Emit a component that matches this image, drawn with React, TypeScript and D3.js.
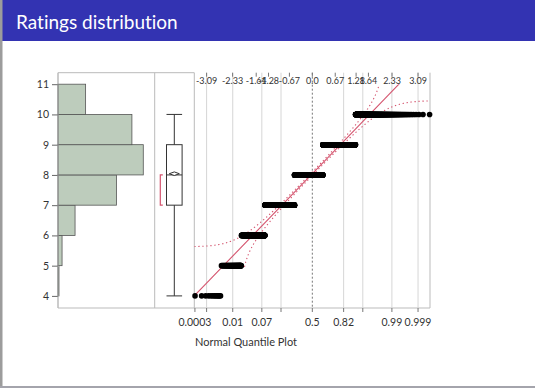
import React, { useRef, useEffect } from 'react';
import * as d3 from 'd3';

// Ratings and how many responses fell on each
const ratings = [4, 5, 6, 7, 8, 9, 10];
const ratingCounts = [12, 50, 210, 720, 1050, 910, 340];
const yTicks = [4, 5, 6, 7, 8, 9, 10, 11];

// Quantile plot axes
const quantileTicks = [-3.09, -2.33, -1.64, -1.28, -0.67, 0.0, 0.67, 1.28, 1.64, 2.33, 3.09];
const quantileLabels = ['-3.09', '-2.33', '-1.64', '-1.28', '-0.67', '0.0', '0.67', '1.28', '1.64', '2.33', '3.09'];
const probGrid = [0.001, 0.01, 0.07, 0.18, 0.82, 0.93, 0.99, 0.999];
const probTicks = [0.0003, 0.001, 0.01, 0.07, 0.18, 0.5, 0.82, 0.93, 0.99, 0.999];
const probLabelValues = [0.0003, 0.01, 0.07, 0.5, 0.82, 0.99, 0.999];
const probLabels = ['0.0003', '0.01', '0.07', '0.5', '0.82', '0.99', '0.999'];

// Box plot summary
const boxWhiskers = [4, 10];
const boxQuartiles = [7, 9];
const boxMedian = 8;
const shortestHalf = [7, 8];

// Normal fit and Lilliefors band half width (probability units)
const fitMean = 8.04;
const fitSd = 1.17;
const bandD = 0.0195;
const bandRange = [4.95, 11];

const W = 535;
const H = 388;
const RED = '#d4536d';
const FONT = 'Lato, "Noto Sans", sans-serif';

function qnorm(p: number): number {
  const a = [-39.69683028665376, 220.9460984245205, -275.9285104469687, 138.357751867269, -30.66479806614716, 2.506628277459239];
  const b = [-54.47609879822406, 161.5858368580409, -155.6989798598866, 66.80131188771972, -13.28068155288572];
  const c = [-0.007784894002430293, -0.3223964580411365, -2.400758277161838, -2.549732539343734, 4.374664141464968, 2.938163982698783];
  const d = [0.007784695709041462, 0.3224671290700398, 2.445134137142996, 3.754408661907416];
  const pl = 0.02425;
  if (p < pl) {
    const q = Math.sqrt(-2 * Math.log(p));
    return (((((c[0] * q + c[1]) * q + c[2]) * q + c[3]) * q + c[4]) * q + c[5]) / ((((d[0] * q + d[1]) * q + d[2]) * q + d[3]) * q + 1);
  }
  if (p > 1 - pl) {
    const q = Math.sqrt(-2 * Math.log(1 - p));
    return -(((((c[0] * q + c[1]) * q + c[2]) * q + c[3]) * q + c[4]) * q + c[5]) / ((((d[0] * q + d[1]) * q + d[2]) * q + d[3]) * q + 1);
  }
  const q = p - 0.5;
  const r = q * q;
  return (((((a[0] * r + a[1]) * r + a[2]) * r + a[3]) * r + a[4]) * r + a[5]) * q / (((((b[0] * r + b[1]) * r + b[2]) * r + b[3]) * r + b[4]) * r + 1);
}

function pnorm(z: number): number {
  const x = Math.abs(z) / Math.SQRT2;
  const t = 1 / (1 + 0.3275911 * x);
  const erf = 1 - (((((1.061405429 * t - 1.453152027) * t) + 1.421413741) * t - 0.284496736) * t + 0.254829592) * t * Math.exp(-x * x);
  return z >= 0 ? 0.5 * (1 + erf) : 0.5 * (1 - erf);
}

const App: React.FC = () => {
  const svgRef = useRef<SVGSVGElement>(null);

  useEffect(() => {
    if (!svgRef.current) return;
    const svg = d3.select(svgRef.current);
    svg.selectAll('*').remove();

    // slide background
    svg.append('rect').attr('width', W).attr('height', H).attr('fill', '#fff');
    svg.append('rect').attr('x', 0).attr('y', 0).attr('width', W).attr('height', 41).attr('fill', '#3333b2');
    svg.append('rect').attr('x', 0).attr('y', 0).attr('width', 2.5).attr('height', H).attr('fill', '#9c9c9c');
    svg.append('rect').attr('x', 0).attr('y', H - 2).attr('width', W).attr('height', 2).attr('fill', '#a4a4ac');
    svg.append('text')
      .attr('x', 16).attr('y', 29)
      .attr('fill', '#fff')
      .style('font-family', FONT)
      .style('font-size', '19px')
      .style('font-variant-ligatures', 'none')
      .text('Ratings distribution');

    // scales
    const y = d3.scaleLinear().domain([3.6, 11.38]).range([308, 72.7]);
    const xCount = d3.scaleLinear().domain([0, 1182]).range([58, 154]);
    const xz = d3.scaleLinear().domain([-3.45, 3.44]).range([194.3, 430]);
    const frameTop = 72.7;
    const frameBottom = 308;

    // ----- histogram -----
    const hist = svg.append('g');
    hist.selectAll('rect')
      .data(ratings)
      .join('rect')
      .attr('x', xCount(0))
      .attr('y', (d) => y(d + 1))
      .attr('width', (_, i) => xCount(ratingCounts[i]) - xCount(0))
      .attr('height', (d) => y(d) - y(d + 1))
      .attr('fill', '#bdccbc')
      .attr('stroke', '#555')
      .attr('stroke-width', 0.8);

    // y axis
    const yAxis = svg.append('g').attr('transform', `translate(${xCount(0)},0)`)
      .call(d3.axisLeft(y).tickValues(yTicks).tickSize(6).tickPadding(3).tickFormat(d3.format('d')));
    yAxis.select('.domain').remove();
    yAxis.selectAll('line').attr('stroke', '#666');
    yAxis.selectAll('text').style('font-family', FONT).style('font-size', '10.5px').attr('fill', '#333');

    // ----- frames -----
    const frame = svg.append('g').attr('fill', 'none').attr('stroke', '#bbbbbb').attr('stroke-width', 1);
    frame.append('line').attr('x1', 58).attr('x2', 58).attr('y1', frameTop).attr('y2', frameBottom).attr('stroke', '#999');
    frame.append('line').attr('x1', 58).attr('x2', xz.range()[0]).attr('y1', frameTop).attr('y2', frameTop);
    frame.append('line').attr('x1', 58).attr('x2', xz.range()[1]).attr('y1', frameBottom).attr('y2', frameBottom);
    frame.append('line').attr('x1', 154.7).attr('x2', 154.7).attr('y1', frameTop).attr('y2', frameBottom);
    frame.append('line').attr('x1', xz.range()[0]).attr('x2', xz.range()[0]).attr('y1', frameTop).attr('y2', frameBottom);
    frame.append('line').attr('x1', xz.range()[1]).attr('x2', xz.range()[1]).attr('y1', frameTop).attr('y2', frameBottom);

    // ----- box plot -----
    const bx = 174.3;
    const bw = 7.8;
    const box = svg.append('g').attr('stroke', '#333').attr('stroke-width', 1).attr('fill', 'none');
    box.append('line').attr('x1', bx).attr('x2', bx).attr('y1', y(boxWhiskers[0])).attr('y2', y(boxWhiskers[1]));
    boxWhiskers.forEach((w) => {
      box.append('line').attr('x1', bx - bw).attr('x2', bx + bw).attr('y1', y(w)).attr('y2', y(w));
    });
    box.append('rect')
      .attr('x', bx - bw).attr('width', bw * 2)
      .attr('y', y(boxQuartiles[1])).attr('height', y(boxQuartiles[0]) - y(boxQuartiles[1]))
      .attr('fill', '#fff');
    box.append('line').attr('x1', bx - bw).attr('x2', bx + bw).attr('y1', y(boxMedian)).attr('y2', y(boxMedian));
    const my = y(fitMean);
    box.append('path')
      .attr('d', `M${bx - 5},${my}L${bx},${my - 1.8}L${bx + 5},${my}L${bx},${my + 1.8}Z`)
      .attr('fill', '#fff');
    // shortest half bracket
    const sx = 160.3;
    svg.append('path')
      .attr('d', `M${sx + 2.5},${y(shortestHalf[1])}H${sx}V${y(shortestHalf[0])}H${sx + 2.5}`)
      .attr('fill', 'none').attr('stroke', RED).attr('stroke-width', 1.2);

    // ----- normal quantile plot -----
    const qp = svg.append('g');
    qp.selectAll('line.grid')
      .data(probGrid)
      .join('line')
      .attr('class', 'grid')
      .attr('x1', (p) => xz(qnorm(p))).attr('x2', (p) => xz(qnorm(p)))
      .attr('y1', frameTop).attr('y2', frameBottom)
      .attr('stroke', '#d6d6d6');
    qp.append('line')
      .attr('x1', xz(0)).attr('x2', xz(0)).attr('y1', frameTop).attr('y2', frameBottom)
      .attr('stroke', '#777').attr('stroke-dasharray', '2,2');

    // top axis (normal quantiles)
    qp.selectAll('line.tt')
      .data(quantileTicks)
      .join('line')
      .attr('class', 'tt')
      .attr('x1', (z) => xz(z)).attr('x2', (z) => xz(z))
      .attr('y1', frameTop).attr('y2', frameTop + 4)
      .attr('stroke', '#777');
    qp.selectAll('text.tl')
      .data(quantileTicks)
      .join('text')
      .attr('class', 'tl')
      .attr('x', (z) => xz(z)).attr('y', 84)
      .attr('text-anchor', 'middle')
      .attr('fill', '#333')
      .style('font-family', FONT).style('font-size', '9px')
      .text((_, i) => quantileLabels[i]);

    // bottom axis (probabilities)
    qp.selectAll('line.bt')
      .data(probTicks)
      .join('line')
      .attr('class', 'bt')
      .attr('x1', (p) => xz(qnorm(p))).attr('x2', (p) => xz(qnorm(p)))
      .attr('y1', frameBottom).attr('y2', frameBottom + 4)
      .attr('stroke', '#777');
    qp.selectAll('text.bl')
      .data(probLabelValues)
      .join('text')
      .attr('class', 'bl')
      .attr('x', (p) => xz(qnorm(p))).attr('y', 326)
      .attr('text-anchor', 'middle')
      .attr('fill', '#333')
      .style('font-family', FONT).style('font-size', '10.5px')
      .text((_, i) => probLabels[i]);
    qp.append('text')
      .attr('x', 195).attr('y', 346)
      .attr('fill', '#333')
      .style('font-family', FONT).style('font-size', '11px')
      .text('Normal Quantile Plot');

    // fitted line and confidence curves
    const defs = svg.append('defs');
    defs.append('clipPath').attr('id', 'qclip')
      .append('rect')
      .attr('x', xz.range()[0]).attr('width', xz.range()[1] - xz.range()[0])
      .attr('y', y(11)).attr('height', y(4) - y(11) + 1);

    const zs = d3.range(xz.domain()[0], xz.domain()[1] + 0.001, 0.004);
    const inBand = (v: number) => v >= bandRange[0] && v <= bandRange[1];
    const fitLine = d3.line<number>().x((z) => xz(z)).y((z) => y(fitMean + fitSd * z));
    const upperVal = (z: number) => fitMean + fitSd * qnorm(pnorm(z) + bandD);
    const lowerVal = (z: number) => fitMean + fitSd * qnorm(pnorm(z) - bandD);
    const upper = d3.line<number>()
      .defined((z) => pnorm(z) + bandD < 1 && inBand(upperVal(z)))
      .x((z) => xz(z))
      .y((z) => y(upperVal(z)));
    const lower = d3.line<number>()
      .defined((z) => pnorm(z) - bandD > 0 && inBand(lowerVal(z)))
      .x((z) => xz(z))
      .y((z) => y(lowerVal(z)));

    const curves = qp.append('g').attr('clip-path', 'url(#qclip)').attr('fill', 'none');
    curves.append('path').attr('d', upper(zs) || '')
      .attr('stroke', RED).attr('stroke-width', 1.1).attr('stroke-dasharray', '1.3,2.7');
    curves.append('path').attr('d', lower(zs) || '')
      .attr('stroke', RED).attr('stroke-width', 1.1).attr('stroke-dasharray', '1.3,2.7');

    // points: each response at its normal score
    const n = d3.sum(ratingCounts);
    const pts: { z: number; v: number }[] = [];
    let rank = 0;
    ratings.forEach((v, i) => {
      for (let k = 0; k < ratingCounts[i]; k++) {
        rank += 1;
        pts.push({ z: qnorm(rank / (n + 1)), v });
      }
    });
    qp.append('g')
      .selectAll('circle')
      .data(pts)
      .join('circle')
      .attr('cx', (d) => xz(d.z))
      .attr('cy', (d) => y(d.v))
      .attr('r', 2.8)
      .attr('fill', '#000');

    curves.append('path').attr('d', fitLine(zs) || '')
      .attr('stroke', RED).attr('stroke-width', 1.1);
  }, []);

  return (
    <svg
      ref={svgRef}
      width={W}
      height={H}
      style={{ position: 'absolute', left: 0, top: 0, display: 'block' }}
    />
  );
};

export default App;
